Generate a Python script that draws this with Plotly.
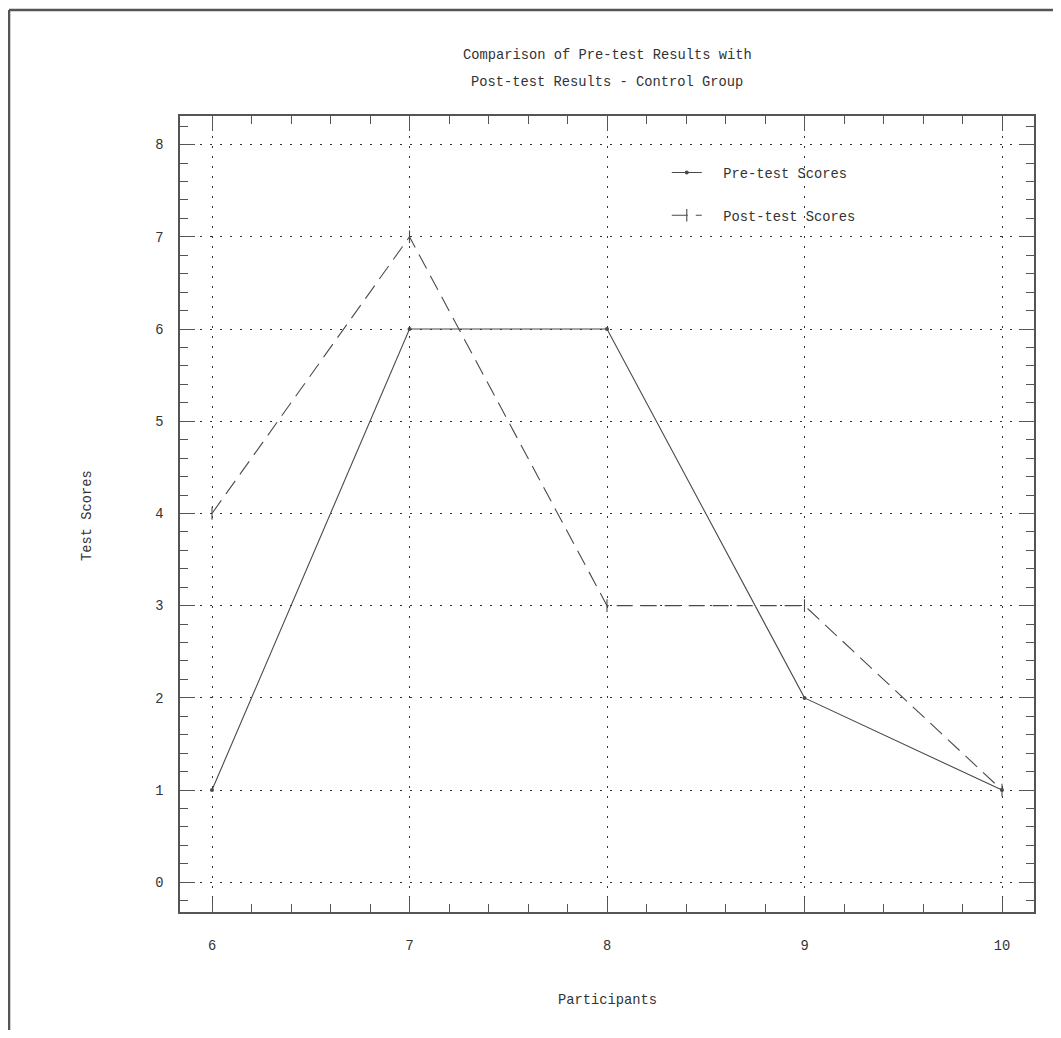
import plotly.graph_objects as go

participants = [6, 7, 8, 9, 10]
pre_scores = [1, 6, 6, 2, 1]
post_scores = [4, 7, 3, 3, 1]
x_ticks = [6, 7, 8, 9, 10]
y_ticks = [0, 1, 2, 3, 4, 5, 6, 7, 8]

INK = "#4a4a4a"
FONT = dict(family="Liberation Mono, DejaVu Sans Mono, monospace", size=13.75, color="#333333")
NB = "\u00a0\u00a0"

fig = go.Figure()
fig.add_trace(go.Scatter(
    x=participants, y=pre_scores, mode="lines+markers",
    name=NB + "Pre-test Scores", legendgroup="a",
    line=dict(color=INK, width=1.1),
    marker=dict(symbol="circle", size=4, color=INK),
))
fig.add_trace(go.Scatter(
    x=participants, y=post_scores, mode="lines+markers",
    name=NB + "Post-test Scores", legendgroup="b",
    line=dict(color=INK, width=1.1, dash="16px,8px"),
    marker=dict(symbol="line-ns-open", size=9, color=INK, line=dict(color=INK, width=1.1)),
))

axis_common = dict(
    showline=True, linecolor="#555555", linewidth=1.5, mirror="ticks",
    ticks="inside", ticklen=15, tickwidth=1.2, tickcolor="#555555",
    showgrid=True, gridcolor="#333333", gridwidth=1, griddash="2px,8px",
    zeroline=False, tickfont=FONT,
)

fig.update_xaxes(
    range=[5.838, 10.162], tickvals=x_ticks, ticktext=[str(v) for v in x_ticks],
    minor=dict(dtick=0.2, tick0=6, ticks="inside", ticklen=8, tickwidth=1.2, tickcolor="#555555", showgrid=False),
    ticklabelstandoff=20, **axis_common,
)
fig.update_yaxes(
    range=[-0.322, 8.31], tickvals=y_ticks, ticktext=[str(v) for v in y_ticks],
    minor=dict(dtick=0.2, tick0=0, ticks="inside", ticklen=8, tickwidth=1.2, tickcolor="#555555", showgrid=False),
    ticklabelstandoff=12, **axis_common,
)

annotations = [
    dict(text="Comparison of Pre-test Results with", x=0.5, y=1.0766, xref="paper", yref="paper",
         showarrow=False, xanchor="center", yanchor="middle", font=FONT),
    dict(text="Post-test Results - Control Group", x=0.5, y=1.0415, xref="paper", yref="paper",
         showarrow=False, xanchor="center", yanchor="middle", font=FONT),
    dict(text="Participants", x=0.5, y=-0.1118, xref="paper", yref="paper",
         showarrow=False, xanchor="center", yanchor="middle", font=FONT),
    dict(text="Test Scores", x=-0.1077, y=0.4975, xref="paper", yref="paper", textangle=-90,
         showarrow=False, xanchor="center", yanchor="middle", font=FONT),
]

shapes = [
    dict(type="line", xref="paper", yref="paper", x0=-0.2002, x1=-0.2002, y0=1.1332, y1=-0.16,
         line=dict(color="#555555", width=2.5)),
    dict(type="line", xref="paper", yref="paper", x0=-0.2002, x1=1.04, y0=1.1332, y1=1.1332,
         line=dict(color="#555555", width=2.5)),
]

fig.update_layout(
    width=1045, height=1022,
    margin=dict(l=172, r=19, t=108, b=118),
    paper_bgcolor="white", plot_bgcolor="white",
    font=FONT,
    showlegend=True,
    legend=dict(x=0.570, y=0.9485, xanchor="left", yanchor="top", bgcolor="rgba(0,0,0,0)",
                borderwidth=0, traceorder="grouped", tracegroupgap=22, font=FONT),
    annotations=annotations, shapes=shapes,
)

fig.write_html("out.html")
